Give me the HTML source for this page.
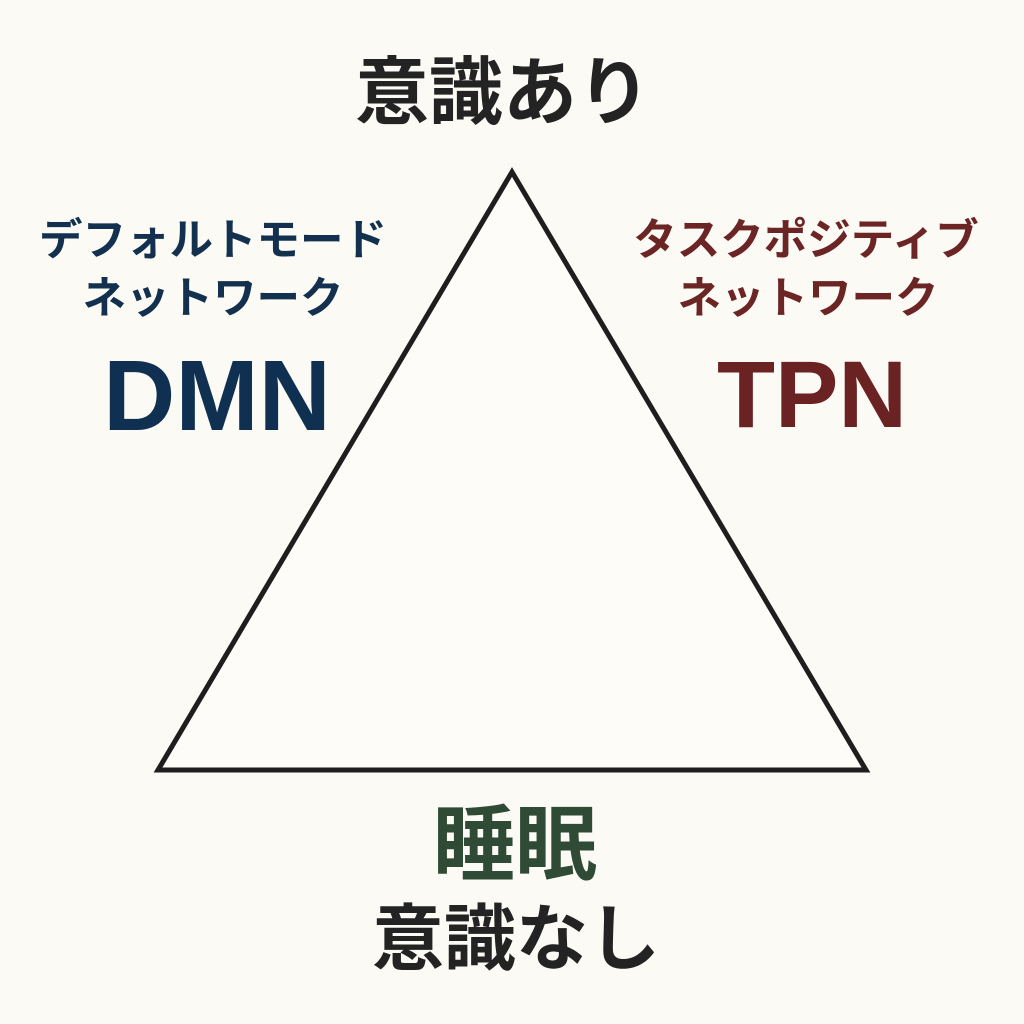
<!DOCTYPE html>
<html><head><meta charset="utf-8"><style>
html,body{margin:0;padding:0;background:#fcfaf5;}
.c{position:absolute;width:1024px;height:1024px;left:0;top:0;overflow:hidden;font-family:"Liberation Sans","Noto Sans CJK JP",sans-serif;font-weight:bold;}
.t{position:absolute;white-space:nowrap;text-align:center;transform:translateX(-50%);line-height:1;}
</style></head><body><div class="c">
<svg width="1024" height="1024" style="position:absolute;left:0;top:0">
<polygon points="512,172 158,770 866,770" fill="#fdfcf9" stroke="#1e1e1e" stroke-width="5" stroke-linejoin="miter"/>
</svg>
<div class="t" style="left:503px;top:56px;font-size:74px;color:#232323">意識あり</div>
<div class="t" style="left:213px;top:220px;font-size:43.5px;color:#13314f">デフォルトモード</div>
<div class="t" style="left:213px;top:278px;font-size:43.5px;color:#13314f">ネットワーク</div>
<div class="t" style="left:217px;top:346px;font-size:100px;color:#0f3050">DMN</div>
<div class="t" style="left:806px;top:220px;font-size:43.5px;color:#6b2525">タスクポジティブ</div>
<div class="t" style="left:808px;top:278px;font-size:43.5px;color:#6b2525">ネットワーク</div>
<div class="t" style="left:812px;top:348px;font-size:95px;color:#6b2222">TPN</div>
<div class="t" style="left:515px;top:805px;font-size:82px;color:#2f4a35">睡眠</div>
<div class="t" style="left:516px;top:904px;font-size:72px;color:#232323">意識なし</div>
</div></body></html>
